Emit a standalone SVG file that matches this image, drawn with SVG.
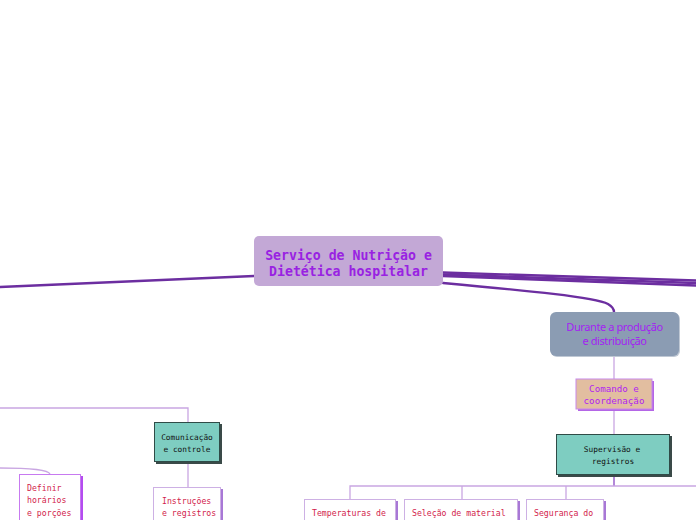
<svg xmlns="http://www.w3.org/2000/svg" width="696" height="520" viewBox="0 0 696 520">
<style>
.mono{font-family:"DejaVu Sans Mono","Liberation Mono",monospace}
.main{fill:none;stroke:#6c2ea0;stroke-width:2.4;stroke-linecap:round}
.thin{fill:none;stroke:#c9a6e2;stroke-width:1.3}
.mid{fill:none;stroke:#9a60cc;stroke-width:1.5}
.teal{fill:#7ecdc1;stroke:#2f4b47;stroke-width:1}
.leaf{fill:#ffffff;stroke:#cdb0e4;stroke-width:1}
.leafsh{fill:#a878d6}
.red{fill:#d21c4c;font-size:8.2px}
.blk{fill:#111;font-size:7.8px}
</style>
<rect width="696" height="520" fill="#ffffff"/>
<g id="connectors">
  <path class="main" d="M254,276 L0,287"/>
  <path class="main" d="M443,272.5 L696,280.5" stroke-width="1.5"/>
  <path class="main" d="M443,274.5 L696,283" stroke-width="1.5"/>
  <path class="main" d="M443,276 L696,285.5" stroke-width="1.3"/>
  <path class="main" d="M443,283 C530,291 595,297 608,304 C613,307 614,309 614,312" stroke-width="1.6"/>
  <path class="thin" d="M614,356 L614,379"/>
  <path class="thin" d="M614,409 L614,434"/>
  <path class="mid" d="M614,475 L614,486"/>
  <path class="thin" d="M350,499 L350,486 L614,486" stroke="#b88ad8"/>
  <path class="thin" d="M614,486 L696,486"/>
  <path class="thin" d="M462,486 L462,499"/>
  <path class="thin" d="M566,486 L566,499"/>
  <path class="thin" d="M0,408 L188,408 L188,422"/>
  <path class="thin" d="M188,462 L188,487"/>
  <path class="thin" d="M0,468 C25,468 48,469 50,474" stroke="#c49ae8"/>
</g>
<g id="root">
  <rect x="254" y="236" width="189" height="50" rx="5" fill="#c3a8d6"/>
  <text class="mono" x="348.5" y="260" text-anchor="middle" font-size="13.2" font-weight="bold" fill="#9922e2">Serviço de Nutrição e</text>
  <text class="mono" x="348.5" y="276" text-anchor="middle" font-size="13.2" font-weight="bold" fill="#9922e2">Dietética hospitalar</text>
</g>
<g id="durante">
  <rect x="551" y="313" width="129" height="44" rx="6" fill="#bfc8d4"/>
  <rect x="550" y="312" width="129" height="44" rx="6" fill="#8b9cb3"/>
  <text x="614.5" y="331" text-anchor="middle" font-family="Noto Sans, Liberation Sans, sans-serif" font-size="11" letter-spacing="-0.4" fill="#a41ef2">Durante a produção</text>
  <text x="614.5" y="345" text-anchor="middle" font-family="Noto Sans, Liberation Sans, sans-serif" font-size="11" letter-spacing="-0.4" fill="#a41ef2">e distribuição</text>
</g>
<g id="comando">
  <rect x="578" y="381" width="76" height="30" fill="#b466e6"/>
  <rect x="576" y="379" width="76" height="30" fill="#e2bea0" stroke="#c888ea" stroke-width="1"/>
  <text class="mono" x="614" y="392" text-anchor="middle" font-size="9.2" fill="#b024f0">Comando e</text>
  <text class="mono" x="614" y="404" text-anchor="middle" font-size="9.2" fill="#b024f0">coordenação</text>
</g>
<g id="supervisao">
  <rect x="558" y="436" width="114" height="41" fill="#3a4a48"/>
  <rect class="teal" x="556.5" y="434.5" width="113" height="40"/>
  <text class="mono blk" x="612" y="452" text-anchor="middle" font-size="8.2">Supervisão e</text>
  <text class="mono blk" x="613" y="464" text-anchor="middle" font-size="8.2">registros</text>
</g>
<g id="temperaturas">
  <rect class="leafsh" x="306" y="501" width="92" height="24"/>
  <rect class="leaf" x="304.5" y="499.5" width="91" height="24"/>
  <text class="mono red" x="312" y="516">Temperaturas de</text>
</g>
<g id="selecao">
  <rect class="leafsh" x="406" y="501" width="114" height="24"/>
  <rect class="leaf" x="404.5" y="499.5" width="113" height="24"/>
  <text class="mono red" x="412" y="516">Seleção de material</text>
</g>
<g id="seguranca">
  <rect class="leafsh" x="528" y="501" width="78" height="24"/>
  <rect class="leaf" x="526.5" y="499.5" width="77" height="24"/>
  <text class="mono red" x="534" y="516">Segurança do</text>
</g>
<g id="comunicacao">
  <rect x="156" y="424" width="66" height="40" fill="#3a4a48"/>
  <rect class="teal" x="154.5" y="422.5" width="65" height="39"/>
  <text class="mono blk" x="187" y="440" text-anchor="middle" font-size="7.5">Comunicação</text>
  <text class="mono blk" x="187" y="452" text-anchor="middle" font-size="7.5">e controle</text>
</g>
<g id="instrucoes">
  <rect class="leafsh" x="155" y="489" width="68" height="36"/>
  <rect class="leaf" x="153.5" y="487.5" width="67" height="36"/>
  <text class="mono red" x="162" y="504" font-size="7.6px">Instruções</text>
  <text class="mono red" x="162" y="516" font-size="7.6px">e registros</text>
</g>
<g id="definir">
  <rect x="21" y="476" width="62" height="50" fill="#b44cf0"/>
  <rect x="19.5" y="474.5" width="61" height="50" fill="#ffffff" stroke="#c77af0" stroke-width="1"/>
  <text class="mono red" x="27" y="491">Definir</text>
  <text class="mono red" x="27" y="503">horários</text>
  <text class="mono red" x="27" y="516">e porções</text>
</g>
</svg>
